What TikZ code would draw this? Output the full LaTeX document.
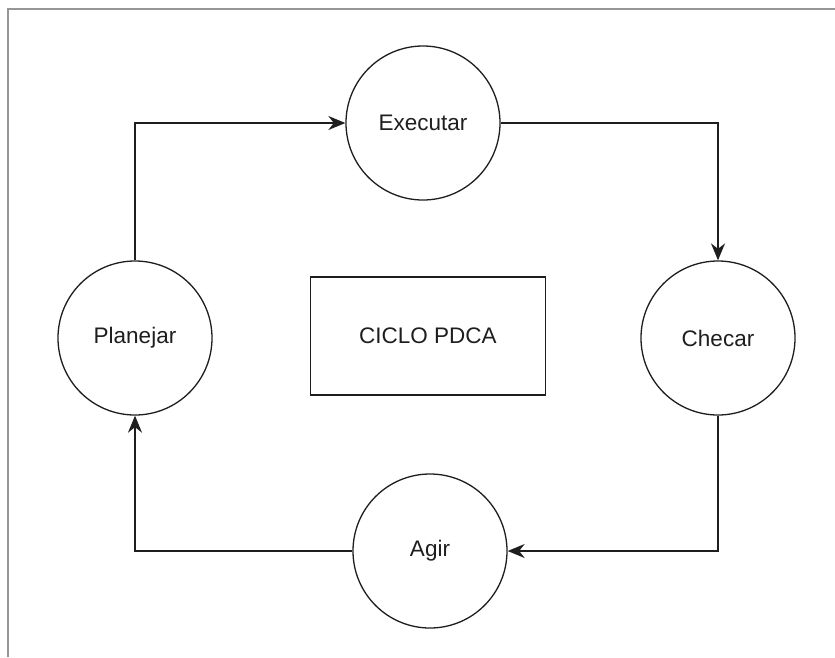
\documentclass[tikz,border=0pt]{standalone}
\usepackage{fontspec}
\setmainfont{Liberation Sans}
\usepackage{tikz}
\usetikzlibrary{arrows.meta, positioning, shapes.geometric}
\definecolor{colFrame}{RGB}{150,150,150}
\definecolor{colLine}{RGB}{30,30,30}

\begin{document}
\begin{tikzpicture}[
  x=1pt, y=-1pt,
  stage/.style={circle, draw=colLine, line width=1.3pt, minimum size=154pt,
                inner sep=0pt, text=colLine, font=\fontsize{22.5}{27}\selectfont},
  title/.style={rectangle, draw=colLine, line width=1.6pt, minimum width=235pt,
                minimum height=118pt, text=colLine, font=\fontsize{22.5}{27}\selectfont},
  arr/.style={-{Stealth[length=17pt, width=14pt]}, line width=1.6pt, colLine},
]
\useasboundingbox (0,0) rectangle (835,657);
% page frame (cut at the bottom and right)
\draw[colFrame, line width=1.5pt] (8,657) -- (8,9) -- (835,9);

\node[stage] (exec) at (423,123) {Executar};
\node[stage] (plan) at (135,338) {Planejar};
\node[stage] (check) at (718,338) {Checar};
\node[stage] (act) at (430,551) {Agir};
\node[title] (pdca) at (428,336) {CICLO PDCA};

\draw[arr] (plan.north) |- (exec.west);
\draw[arr] (exec.east) -| (check.north);
\draw[arr] (check.south) |- (act.east);
\draw[arr] (act.west) -| (plan.south);

\end{tikzpicture}
\end{document}
